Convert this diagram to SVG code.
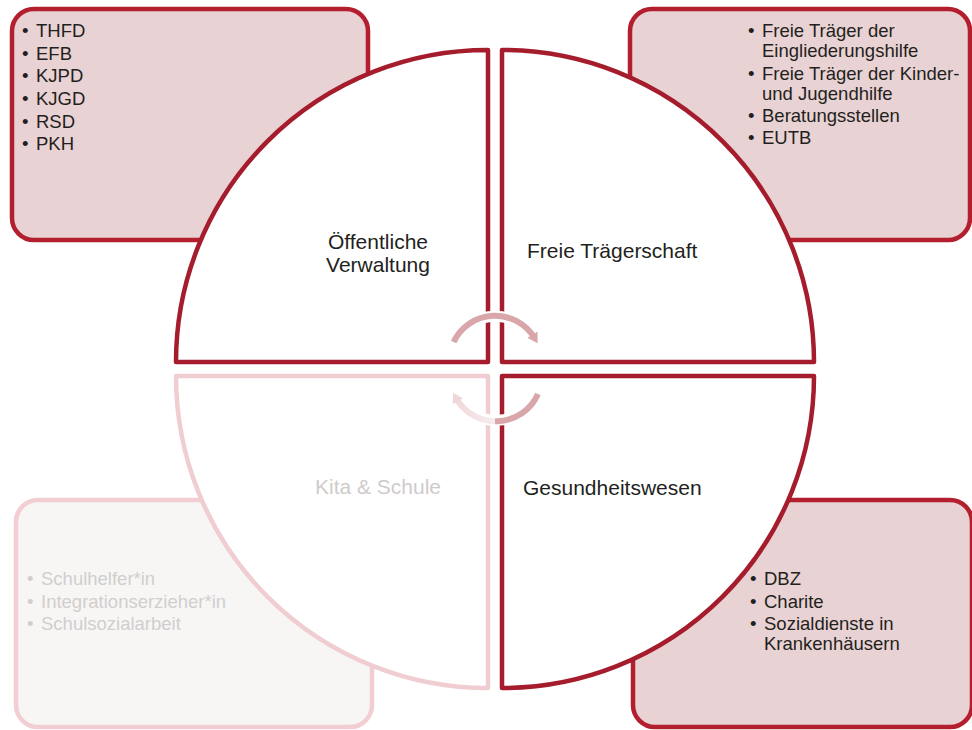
<svg xmlns="http://www.w3.org/2000/svg" width="972" height="730" viewBox="0 0 972 730">
<style>
.box{fill:#E9D2D3;stroke:#B41F2F;stroke-width:4.5}
.boxf{fill:#F7F6F5;stroke:#F2CDD1;stroke-width:4.5}
.q{fill:#FFFFFF;stroke:#A51D2D;stroke-width:4.5;stroke-linejoin:round}
.qf{fill:#FFFFFF;stroke:#F0CDD1;stroke-width:4.5;stroke-linejoin:round}
.li{font-family:"Liberation Sans",Arial,sans-serif;font-size:18.5px;fill:#231F20}
.lif{font-family:"Liberation Sans",Arial,sans-serif;font-size:18.5px;fill:#D1CECE}
.lbl{font-family:"Liberation Sans",Arial,sans-serif;font-size:21px;fill:#231F20}
.lblf{font-family:"Liberation Sans",Arial,sans-serif;font-size:21px;fill:#CFCBCB}
.halo{fill:none;stroke:#FFFFFF;stroke-width:11}
</style>
<defs>
<marker id="ahTop" markerUnits="userSpaceOnUse" markerWidth="14" markerHeight="14" refX="4" refY="7" orient="auto">
<path d="M0,1 L10,7 L0,13 Z" fill="#D9A7AA"/>
</marker>
<marker id="ahBot" markerUnits="userSpaceOnUse" markerWidth="14" markerHeight="14" refX="4" refY="7" orient="auto">
<path d="M0,1 L10,7 L0,13 Z" fill="#F0D6D8"/>
</marker>
<linearGradient id="gBot" gradientUnits="userSpaceOnUse" x1="450" y1="0" x2="542" y2="0">
<stop offset="0" stop-color="#F0D6D8"/>
<stop offset="0.49" stop-color="#F6EDED"/>
<stop offset="0.49" stop-color="#D9A7AA"/>
<stop offset="1" stop-color="#D9A7AA"/>
</linearGradient>
</defs>

<g id="box-oeffentlich">
<rect class="box" x="12" y="9" width="356" height="231" rx="22"/>
<text class="li" x="22" y="37">•</text><text class="li" x="36" y="37">THFD</text>
<text class="li" x="22" y="59.5">•</text><text class="li" x="36" y="59.5">EFB</text>
<text class="li" x="22" y="82">•</text><text class="li" x="36" y="82">KJPD</text>
<text class="li" x="22" y="105">•</text><text class="li" x="36" y="105">KJGD</text>
<text class="li" x="22" y="127.5">•</text><text class="li" x="36" y="127.5">RSD</text>
<text class="li" x="22" y="150">•</text><text class="li" x="36" y="150">PKH</text>
</g>

<g id="box-freie">
<rect class="box" x="630" y="9" width="340" height="231" rx="22"/>
<text class="li" x="748" y="37">•</text><text class="li" x="762" y="37">Freie Träger der</text>
<text class="li" x="762" y="57">Eingliederungshilfe</text>
<text class="li" x="748" y="80">•</text><text class="li" x="762" y="80">Freie Träger der Kinder-</text>
<text class="li" x="762" y="100">und Jugendhilfe</text>
<text class="li" x="748" y="122">•</text><text class="li" x="762" y="122">Beratungsstellen</text>
<text class="li" x="748" y="144">•</text><text class="li" x="762" y="144">EUTB</text>
</g>

<g id="box-kita">
<rect class="boxf" x="16" y="500" width="356" height="227" rx="22"/>
<text class="lif" x="27" y="585">•</text><text class="lif" x="41" y="585">Schulhelfer*in</text>
<text class="lif" x="27" y="608">•</text><text class="lif" x="41" y="608">Integrationserzieher*in</text>
<text class="lif" x="27" y="630">•</text><text class="lif" x="41" y="630">Schulsozialarbeit</text>
</g>

<g id="box-gesundheit">
<rect class="box" x="633" y="500" width="339" height="227" rx="22"/>
<text class="li" x="750" y="585">•</text><text class="li" x="764" y="585">DBZ</text>
<text class="li" x="750" y="608">•</text><text class="li" x="764" y="608">Charite</text>
<text class="li" x="750" y="630">•</text><text class="li" x="764" y="630">Sozialdienste in</text>
<text class="li" x="764" y="650">Krankenhäusern</text>
</g>

<g id="q-oeffentlich">
<path class="q" d="M488,362 H176 A312,312 0 0 1 488,50 Z"/>
<text class="lbl" text-anchor="middle" x="378" y="249">Öffentliche</text>
<text class="lbl" text-anchor="middle" x="378" y="272">Verwaltung</text>
</g>

<g id="q-freie">
<path class="q" d="M502,362 V50 A312,312 0 0 1 814,362 Z"/>
<text class="lbl" x="527" y="258">Freie Trägerschaft</text>
</g>

<g id="q-kita">
<path class="qf" d="M488,376 V688 A312,312 0 0 1 176,376 Z"/>
<text class="lblf" text-anchor="middle" x="378" y="494">Kita &amp; Schule</text>
</g>

<g id="q-gesundheit">
<path class="q" d="M502,376 H814 A312,312 0 0 1 502,688 Z"/>
<text class="lbl" x="523" y="495">Gesundheitswesen</text>
</g>

<g id="connectors">
<path class="halo" d="M455,340 A46,46 0 0 1 535,339"/>
<path d="M453.6,342 A46,46 0 0 1 534.5,338" fill="none" stroke="#D9A7AA" stroke-width="6" marker-end="url(#ahTop)"/>
<path class="halo" d="M536,396 A46,46 0 0 1 456,398"/>
<path d="M538,394 A46,46 0 0 1 456,398" fill="none" stroke="url(#gBot)" stroke-width="6" marker-end="url(#ahBot)"/>
</g>
</svg>
